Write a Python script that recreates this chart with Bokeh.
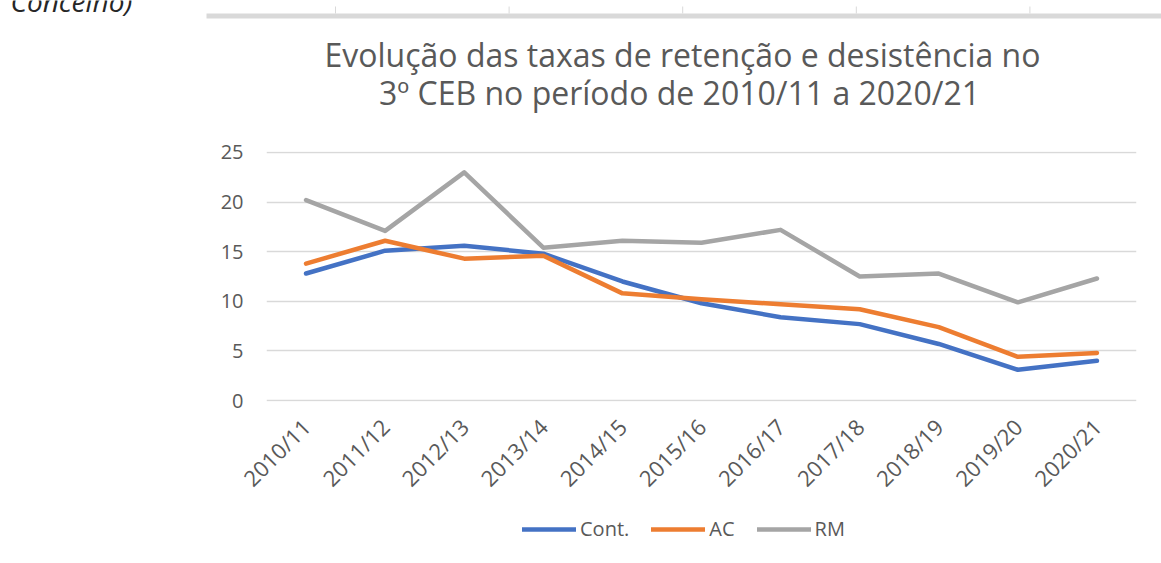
import math
from bokeh.plotting import figure
from bokeh.layouts import column
from bokeh.models import Legend, LegendItem, FixedTicker
from bokeh.core.properties import value
from bokeh.embed import file_html
from bokeh.resources import INLINE

years = ["2010/11", "2011/12", "2012/13", "2013/14", "2014/15", "2015/16",
         "2016/17", "2017/18", "2018/19", "2019/20", "2020/21"]
cont = [12.8, 15.1, 15.6, 14.8, 12.0, 9.8, 8.4, 7.7, 5.7, 3.1, 4.0]
ac = [13.8, 16.1, 14.3, 14.6, 10.8, 10.2, 9.7, 9.2, 7.4, 4.4, 4.8]
rm = [20.2, 17.1, 23.0, 15.4, 16.1, 15.9, 17.2, 12.5, 12.8, 9.9, 12.3]
y_ticks = [0, 5, 10, 15, 20, 25]
title_lines = ["Evolução das taxas de retenção e desistência no",
               "3º CEB no período de 2010/11 a 2020/21"]
series_names = ["Cont.", "AC", "RM"]
colors = ["#4472C4", "#ED7D31", "#A5A5A5"]

FONT = "Open Sans"
TXT = "#595959"
W = 1161


def strip(height):
    f = figure(width=W, height=height, x_range=(0, W), y_range=(height, 0),
               x_axis_location=None, y_axis_location=None,
               toolbar_location=None, output_backend="svg", min_border=0)
    f.frame_align = False
    f.title.visible = False
    f.grid.visible = False
    f.outline_line_color = None
    return f


# --- header strip: cropped bit of the preceding chart + this chart's title ---
top = strip(131)
top.segment(x0=[206], y0=[15.5], x1=[W], y1=[15.5], line_color="#D9D9D9", line_width=5)
tick_x = [335 + 173.6 * k for k in range(5)]
top.segment(x0=tick_x, y0=[6] * 5, x1=tick_x, y1=[13] * 5, line_color="#D9D9D9", line_width=1)
top.text(x=[10], y=[13], y_offset=-13, text=["Concelho)"], text_font=value(FONT),
         text_font_style="italic", text_font_size="28px", text_color="#262626",
         text_baseline="alphabetic")
top.text(x=[682, 679], y=[66.7, 105], y_offset=-13, text=title_lines, text_font=value(FONT),
         text_font_size="32px", text_color=TXT, text_align="center", text_baseline="alphabetic")

# --- main chart ---
p = figure(x_range=years, y_range=(-0.1, 25.1), frame_width=870, frame_height=250,
           min_border_left=266, min_border_right=W - 266 - 870, min_border_top=20,
           min_border_bottom=100, toolbar_location=None, output_backend="svg")
p.frame_align = False
p.title.visible = False
p.outline_line_color = None
p.xgrid.grid_line_color = None
p.ygrid.grid_line_color = "#D9D9D9"
p.ygrid.grid_line_width = 1.5
p.yaxis.ticker = FixedTicker(ticks=y_ticks)

for ax in (p.xaxis[0], p.yaxis[0]):
    ax.axis_line_color = None
    ax.major_tick_line_color = None
    ax.minor_tick_line_color = None
    ax.major_tick_in = 0
    ax.major_tick_out = 0
    ax.major_label_text_font = FONT
    ax.major_label_text_color = TXT

p.yaxis.major_label_text_font_size = "20px"
p.yaxis.major_label_standoff = 23
p.xaxis.major_label_text_font_size = "22px"
p.xaxis.major_label_orientation = math.pi / 4
p.xaxis.major_label_standoff = 21

for name, vals, col in zip(series_names, [cont, ac, rm], colors):
    p.line(x=years, y=vals, line_color=col, line_width=4.5, line_join="round", line_cap="round")

# --- legend strip (legend keys only; no data drawn here) ---
bot = strip(55)
nan = float("nan")
swatches = [bot.line(x=[nan, nan], y=[nan, nan], line_color=c, line_width=4.5, line_cap="round")
            for c in colors]
legend = Legend(items=[LegendItem(label=n, renderers=[r]) for n, r in zip(series_names, swatches)],
                orientation="horizontal", location=(522, 18),
                glyph_width=54, glyph_height=20, label_height=20, label_standoff=4, spacing=22,
                padding=0, margin=0, border_line_color=None, background_fill_alpha=0,
                label_text_font=FONT, label_text_font_size="20px", label_text_color=TXT)
bot.add_layout(legend, "center")

out = column(top, p, bot, spacing=0)
open("out.html", "w").write(file_html(out, INLINE))
